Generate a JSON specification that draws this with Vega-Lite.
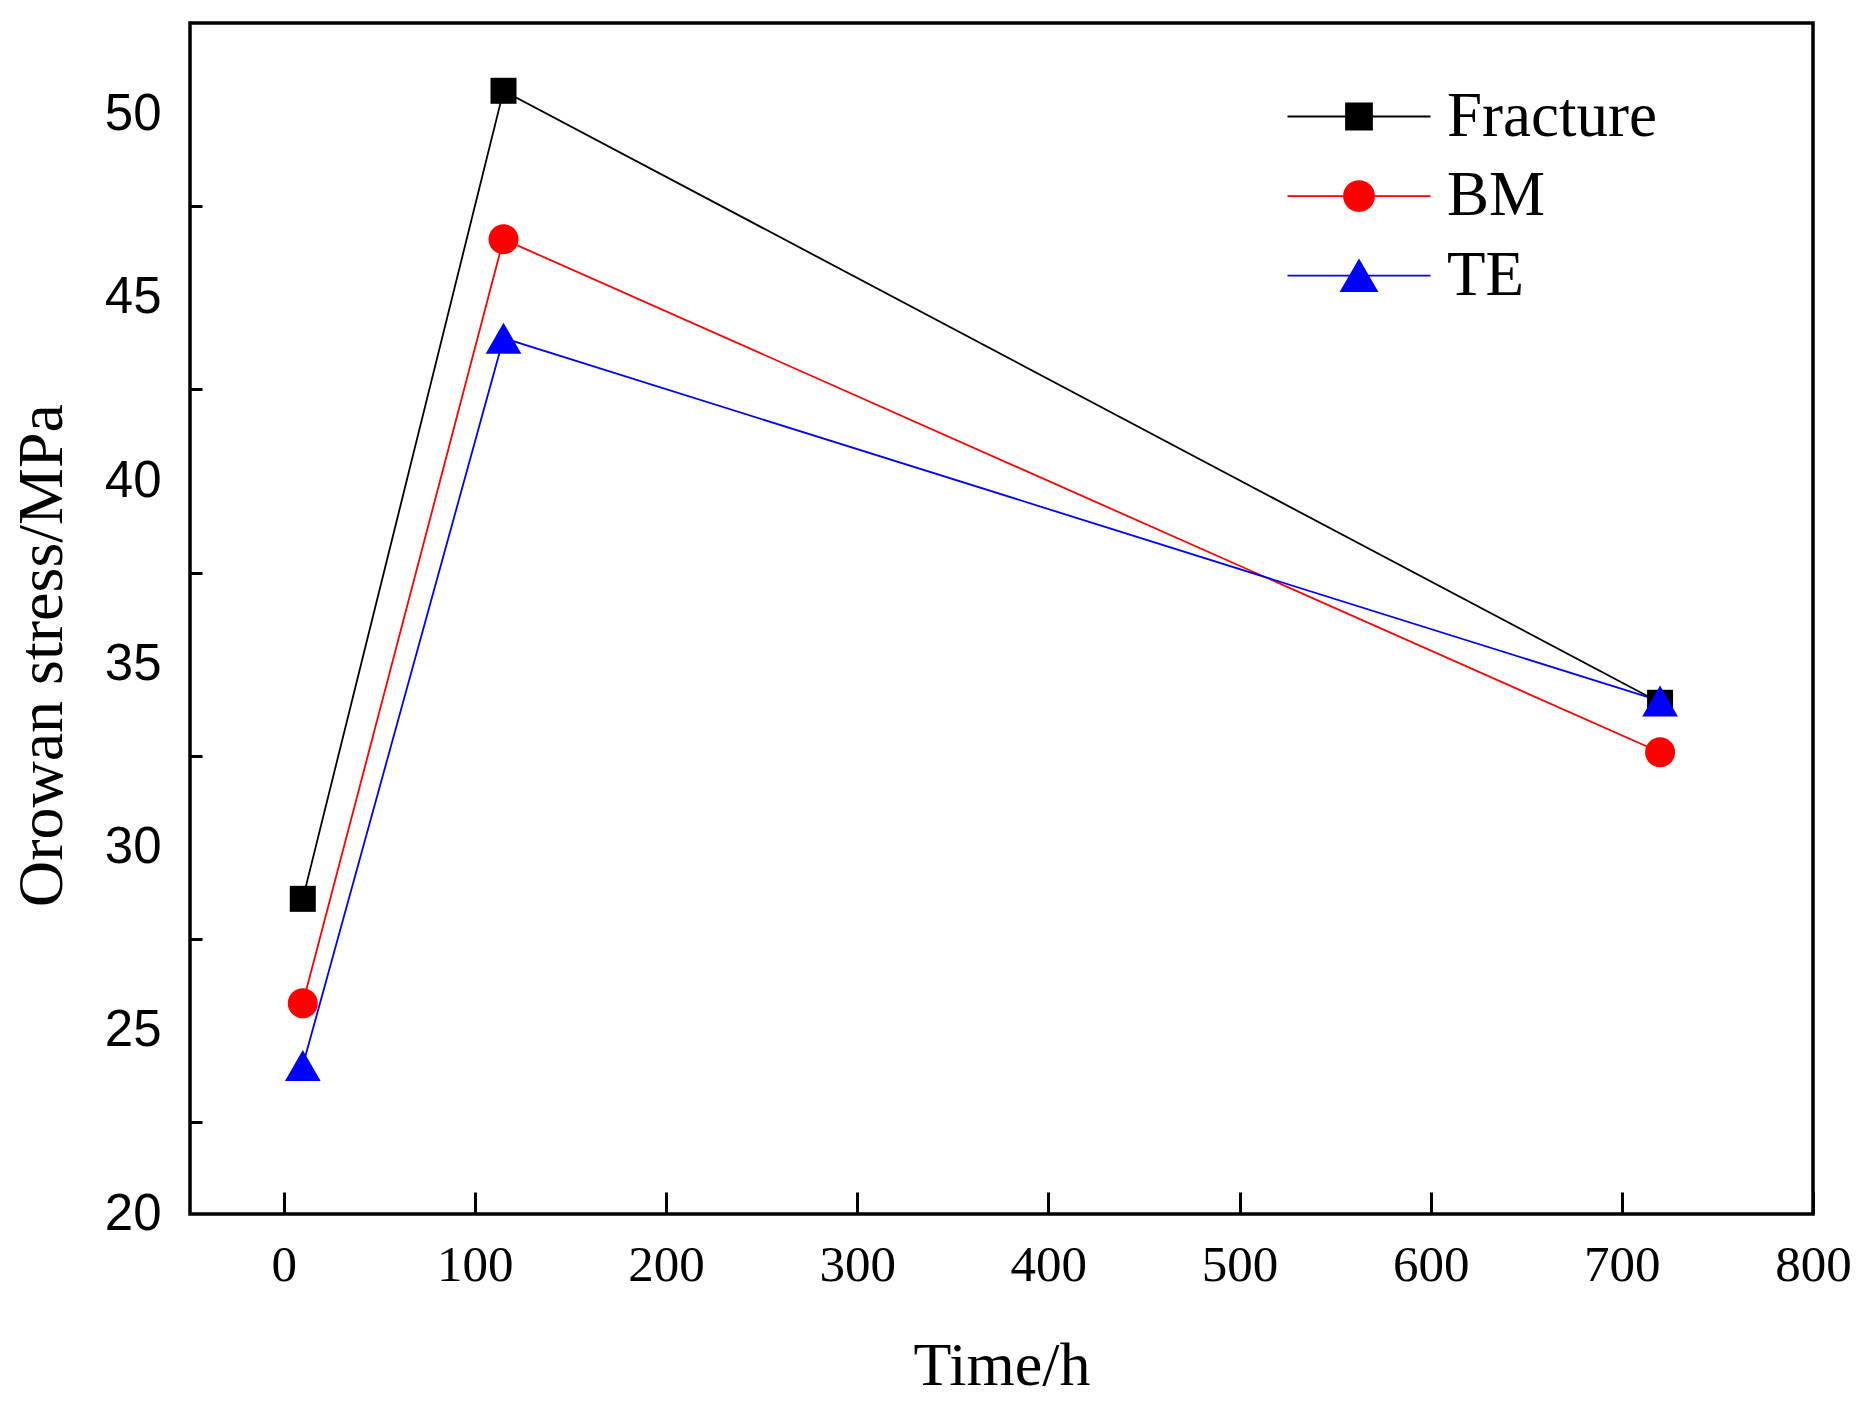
{
  "$schema": "https://vega.github.io/schema/vega-lite/v6.json",
  "description": "Orowan stress vs time",
  "width": 1623,
  "height": 1191,
  "autosize": {"type": "none"},
  "padding": {"left": 190, "top": 23, "right": 51, "bottom": 194},
  "background": "white",
  "config": {
    "view": {"stroke": "black", "strokeWidth": 3.5},
    "axis": {"grid": false, "domain": false, "tickColor": "black", "labelColor": "black", "titleColor": "black", "titleFontWeight": "normal"}
  },
  "data": {
    "values": [
      {"time": 10, "stress": 28.6, "series": "Fracture"},
      {"time": 115, "stress": 50.65, "series": "Fracture"},
      {"time": 720, "stress": 33.95, "series": "Fracture"},
      {"time": 10, "stress": 25.75, "series": "BM"},
      {"time": 115, "stress": 46.6, "series": "BM"},
      {"time": 720, "stress": 32.6, "series": "BM"},
      {"time": 10, "stress": 24.05, "series": "TE"},
      {"time": 115, "stress": 43.9, "series": "TE"},
      {"time": 720, "stress": 34.0, "series": "TE"}
    ]
  },
  "encoding": {
    "x": {
      "field": "time",
      "type": "quantitative",
      "title": "Time/h",
      "scale": {"domain": [-49, 800], "nice": false, "zero": false},
      "axis": {
        "values": [0, 100, 200, 300, 400, 500, 600, 700, 800],
        "tickSize": -22,
        "tickWidth": 3,
        "labelPadding": 48,
        "labelFont": "Liberation Serif",
        "labelFontSize": 51,
        "labelFlush": false,
        "labelOverlap": false,
        "titleFont": "Liberation Serif",
        "titleFontSize": 62,
        "titleBaseline": "alphabetic",
        "titleY": 170
      }
    },
    "y": {
      "field": "stress",
      "type": "quantitative",
      "title": "Orowan stress/MPa",
      "scale": {"domain": [20, 52.5], "nice": false, "zero": false},
      "axis": {
        "values": [20, 22.5, 25, 27.5, 30, 32.5, 35, 37.5, 40, 42.5, 45, 47.5, 50],
        "labelExpr": "datum.value % 5 === 0 ? datum.label : ''",
        "tickOpacity": {"condition": {"test": "datum.value % 5 === 0", "value": 0}, "value": 1},
        "tickSize": -12,
        "tickWidth": 3,
        "labelPadding": 41,
        "labelFont": "Liberation Sans",
        "labelFontSize": 51,
        "labelFlush": false,
        "labelOverlap": false,
        "titleFont": "Liberation Serif",
        "titleFontSize": 64,
        "titleBaseline": "alphabetic",
        "titleAlign": "center",
        "titleAngle": -90,
        "titleX": -129,
        "titleY": 632
      }
    },
    "color": {
      "field": "series",
      "type": "nominal",
      "scale": {"domain": ["Fracture", "BM", "TE"], "range": ["#000000", "#ff0000", "#0000ff"]},
      "legend": {
        "title": null,
        "orient": "none",
        "legendX": 1137.5,
        "legendY": 62,
        "padding": 0,
        "symbolSize": 676,
        "symbolStrokeWidth": 1.8,
        "labelOffset": 56.5,
        "labelFont": "Liberation Serif",
        "labelFontSize": 63,
        "labelColor": "black",
        "labelLimit": 500,
        "rowPadding": 15.6,
        "encode": {
          "symbols": {
            "update": {
              "shape": {"signal": "datum.value === 'Fracture' ? 'M-5.5,0H-1M1,0H5.5M-1,-1H1V1H-1Z' : datum.value === 'BM' ? 'M-5.5,0H-1.154M1.154,0H5.5M1.154,0A1.154,1.154,0,1,1,-1.154,0A1.154,1.154,0,1,1,1.154,0Z' : 'M-5.5,0H-0.687M0.687,0H5.5M0,-1.192L1.373,1.192L-1.373,1.192Z'"},
              "fill": {"signal": "datum.value === 'Fracture' ? '#000000' : datum.value === 'BM' ? '#ff0000' : '#0000ff'"},
              "stroke": {"signal": "datum.value === 'Fracture' ? '#000000' : datum.value === 'BM' ? '#ff0000' : '#0000ff'"},
              "strokeWidth": {"value": 1.8},
              "opacity": {"value": 1},
              "size": {"value": 676}
            }
          }
        }
      }
    }
  },
  "layer": [
    {"mark": {"type": "line", "strokeWidth": 1.8}},
    {
      "transform": [{"filter": "datum.series === 'Fracture'"}],
      "mark": {"type": "point", "filled": true, "opacity": 1, "size": 676, "shape": "M-1,-1H1V1H-1Z"}
    },
    {
      "transform": [{"filter": "datum.series === 'BM'"}],
      "mark": {"type": "point", "filled": true, "opacity": 1, "size": 676, "shape": "M1.154,0A1.154,1.154,0,1,1,-1.154,0A1.154,1.154,0,1,1,1.154,0Z"}
    },
    {
      "transform": [{"filter": "datum.series === 'TE'"}],
      "mark": {"type": "point", "filled": true, "opacity": 1, "size": 676, "shape": "M0,-1.192L1.373,1.192L-1.373,1.192Z"}
    }
  ]
}
